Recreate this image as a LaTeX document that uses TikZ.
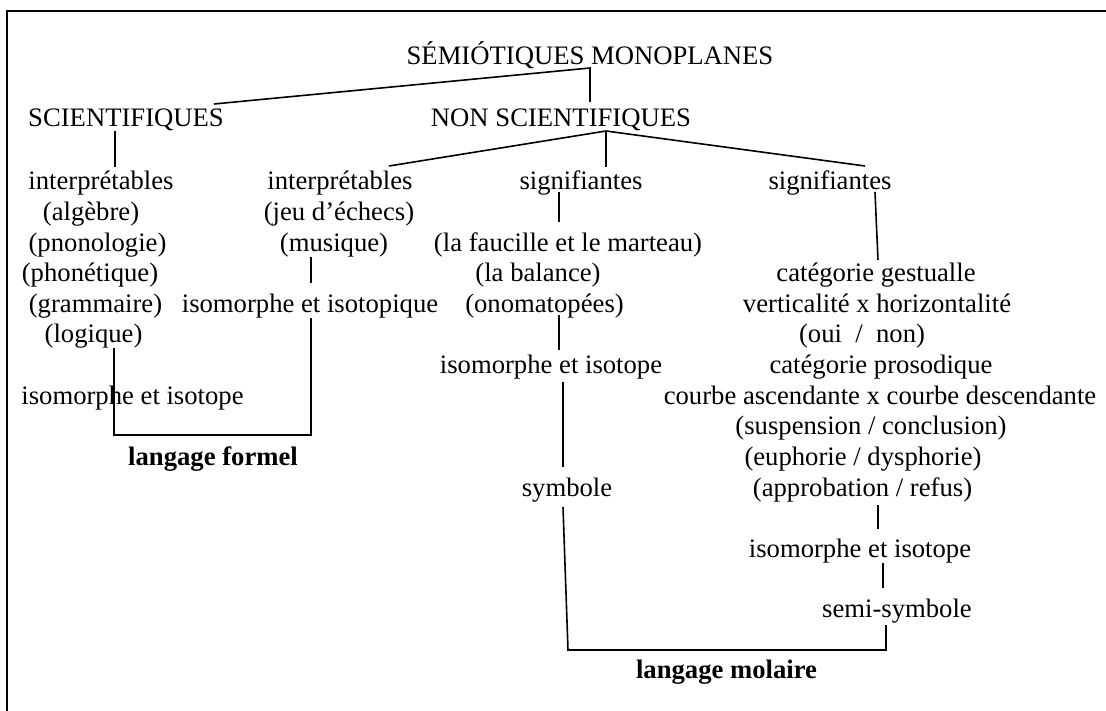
\documentclass[tikz,border=0pt]{standalone}
\usepackage{fontspec}
\setmainfont{Liberation Serif}
\begin{document}
\begin{tikzpicture}[x=1pt,y=-1pt,
  lbl/.style={anchor=base,inner sep=0pt,font=\fontsize{26.67}{30}\selectfont},
  blbl/.style={anchor=base,inner sep=0pt,font=\fontsize{26.67}{30}\selectfont\bfseries},
  conn/.style={line width=1.6pt,line join=miter},
  frameline/.style={line width=2.2pt}]
\useasboundingbox (0,0) rectangle (1106,711);
% frame
\coordinate (fA) at (7,711);
\coordinate (fB) at (7,11);
\coordinate (fC) at (1106,11);
\draw[frameline] (fA) -- (fB) -- (fC);

% texts
\node[lbl] (title) at (590,65) {SÉMIÓTIQUES MONOPLANES};
\node[lbl] (sci) at (126,127) {SCIENTIFIQUES};
\node[lbl] (nonsci) at (561,127) {NON SCIENTIFIQUES};

\node[lbl] (interA) at (101,190) {interprétables};
\node[lbl] (alg) at (91,220.6) {(algèbre)};
\node[lbl] (pno) at (97.5,251.2) {(pnonologie)};
\node[lbl] (pho) at (90,281.8) {(phonétique)};
\node[lbl] (gram) at (95.5,312.4) {(grammaire)};
\node[lbl] (logi) at (93.5,343) {(logique)};
\node[lbl] (isoA) at (132.5,404) {isomorphe et isotope};
\node[blbl] (formel) at (213,465) {langage formel};

\node[lbl] (interB) at (340,190) {interprétables};
\node[lbl] (jeu) at (339,220.6) {(jeu d’échecs)};
\node[lbl] (mus) at (334,251.2) {(musique)};
\node[lbl] (isoB) at (310,312.4) {isomorphe et isotopique};

\node[lbl] (sigC) at (581,190) {signifiantes};
\node[lbl] (fau) at (568,251.2) {(la faucille et le marteau)};
\node[lbl] (bal) at (538,281.8) {(la balance)};
\node[lbl] (ono) at (544.5,312.4) {(onomatopées)};
\node[lbl] (isoC) at (551,373.6) {isomorphe et isotope};
\node[lbl] (sym) at (567,496) {symbole};
\node[blbl] (molaire) at (726.5,678) {langage molaire};

\node[lbl] (sigD) at (830,190) {signifiantes};
\node[lbl] (gest) at (876,281.8) {catégorie gestualle};
\node[lbl] (vert) at (877,312.4) {verticalité x horizontalité};
\node[lbl] (oui) at (862,343) {(oui\ \ /\ \ non)};
\node[lbl] (pros) at (881,373.6) {catégorie prosodique};
\node[lbl] (courbe) at (880,404.2) {courbe ascendante x courbe descendante};
\node[lbl] (susp) at (871,434.8) {(suspension / conclusion)};
\node[lbl] (euph) at (863,465.4) {(euphorie / dysphorie)};
\node[lbl] (appr) at (862.5,496) {(approbation / refus)};
\node[lbl] (isoD) at (860,557) {isomorphe et isotope};
\node[lbl] (semi) at (897,617) {semi-symbole};

% connector end points
\coordinate (tJ) at (590,68);
\coordinate (tB) at (590,102);
\coordinate (sciT) at (214,104);
\coordinate (sciB) at (115,131);
\coordinate (interAT) at (115,167);
\coordinate (nsJ) at (606,131);
\coordinate (interBT) at (389,166);
\coordinate (sigCT) at (606,167);
\coordinate (sigDT) at (865,166);
\coordinate (musB) at (311,257);
\coordinate (isoBT) at (311,283);
\coordinate (isoBB) at (311,318);
\coordinate (formR) at (311,435);
\coordinate (formL) at (114,435);
\coordinate (logiB) at (114,348);
\coordinate (sigCB) at (559,192);
\coordinate (fauT) at (559,222);
\coordinate (onoB) at (559,315);
\coordinate (isoCT) at (559,350);
\coordinate (isoCB) at (563,382);
\coordinate (symT) at (563,467);
\coordinate (symB) at (563,507);
\coordinate (molL) at (568,650);
\coordinate (molR) at (886,650);
\coordinate (semiB) at (886,625);
\coordinate (sigDB) at (875,192);
\coordinate (gestT) at (878,260);
\coordinate (apprB) at (878,505);
\coordinate (isoDT) at (878,529);
\coordinate (isoDB) at (883,563);
\coordinate (semiT) at (883,588);

% connectors
\draw[conn] (sciT) -- (tJ) -- (tB);
\draw[conn] (sciB) -- (interAT);
\draw[conn] (interBT) -- (nsJ) -- (sigDT);
\draw[conn] (nsJ) -- (sigCT);
\draw[conn] (musB) -- (isoBT);
\draw[conn] (isoBB) -- (formR) -- (formL) -- (logiB);
\draw[conn] (sigCB) -- (fauT);
\draw[conn] (onoB) -- (isoCT);
\draw[conn] (isoCB) -- (symT);
\draw[conn] (symB) -- (molL) -- (molR) -- (semiB);
\draw[conn] (sigDB) -- (gestT);
\draw[conn] (apprB) -- (isoDT);
\draw[conn] (isoDB) -- (semiT);
\end{tikzpicture}
\end{document}
